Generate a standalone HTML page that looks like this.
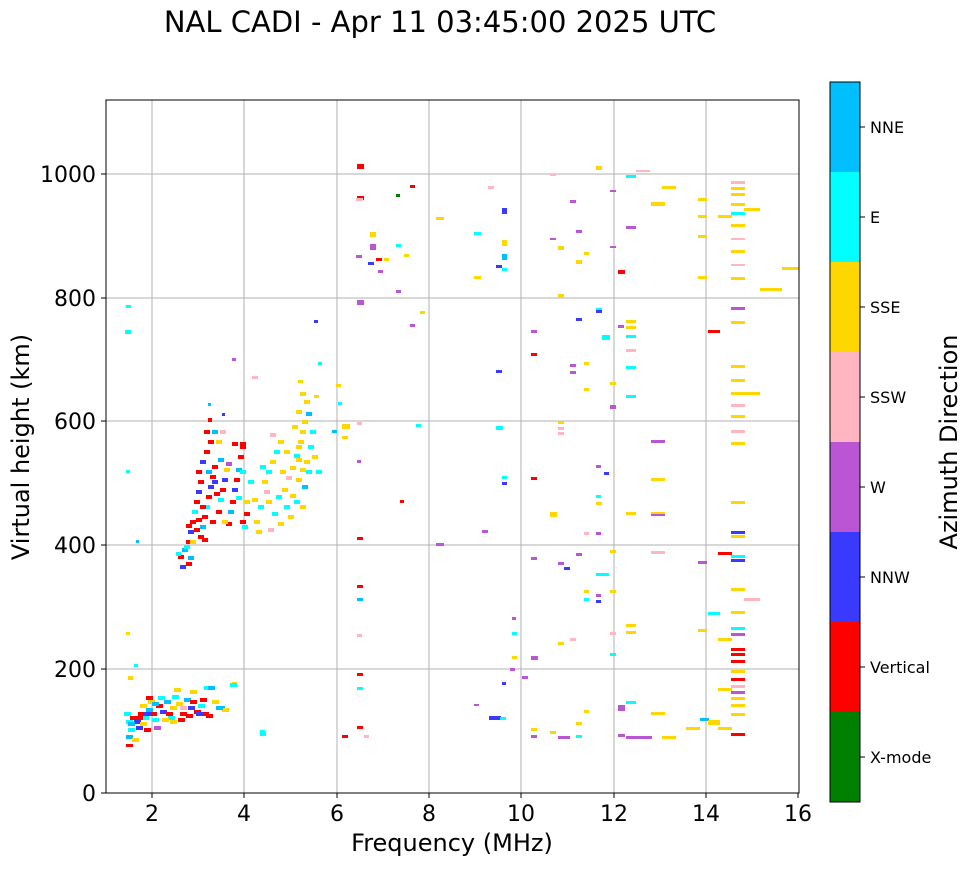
<!DOCTYPE html>
<html><head><meta charset="utf-8"><style>
body{margin:0;background:#fff;}
svg text{font-family:"DejaVu Sans","Liberation Sans",sans-serif;fill:#000;}
.r{fill:#ff0000}.b{fill:#3a3aff}.c{fill:#00ffff}.d{fill:#00bfff}.g{fill:#ffd700}.p{fill:#ffb6c1}.w{fill:#ba55d3}.k{fill:#008000}
</style></head><body>
<svg width="972" height="865" xmlns="http://www.w3.org/2000/svg">
<rect width="972" height="865" fill="#fff"/>
<text x="440" y="32" font-size="29" text-anchor="middle">NAL CADI - Apr 11 03:45:00 2025 UTC</text>
<g stroke="#b0b0b0" stroke-width="1">
<line x1="152" y1="100" x2="152" y2="793"/><line x1="244" y1="100" x2="244" y2="793"/><line x1="337" y1="100" x2="337" y2="793"/><line x1="429" y1="100" x2="429" y2="793"/><line x1="521" y1="100" x2="521" y2="793"/><line x1="614" y1="100" x2="614" y2="793"/><line x1="706" y1="100" x2="706" y2="793"/>
<line x1="106" y1="669" x2="799" y2="669"/><line x1="106" y1="545" x2="799" y2="545"/><line x1="106" y1="421" x2="799" y2="421"/><line x1="106" y1="298" x2="799" y2="298"/><line x1="106" y1="174" x2="799" y2="174"/>
</g>
<g id="pts">
<rect x="126" y="720" width="7" height="4" class="c"/><rect x="128" y="728" width="7" height="4" class="c"/><rect x="126" y="735" width="7" height="4" class="d"/><rect x="130" y="716" width="7" height="4" class="r"/><rect x="134" y="720" width="7" height="4" class="b"/><rect x="138" y="712" width="7" height="4" class="r"/><rect x="142" y="716" width="7" height="4" class="c"/><rect x="146" y="708" width="7" height="4" class="d"/><rect x="150" y="712" width="7" height="4" class="r"/><rect x="148" y="700" width="7" height="4" class="g"/><rect x="152" y="718" width="7" height="4" class="c"/><rect x="156" y="704" width="7" height="4" class="r"/><rect x="160" y="710" width="7" height="4" class="b"/><rect x="164" y="700" width="7" height="4" class="d"/><rect x="166" y="712" width="7" height="4" class="r"/><rect x="170" y="706" width="7" height="4" class="g"/><rect x="172" y="695" width="7" height="4" class="c"/><rect x="176" y="702" width="7" height="4" class="g"/><rect x="180" y="712" width="7" height="4" class="r"/><rect x="184" y="698" width="7" height="4" class="d"/><rect x="188" y="706" width="7" height="4" class="b"/><rect x="190" y="690" width="7" height="4" class="g"/><rect x="194" y="710" width="7" height="4" class="r"/><rect x="198" y="704" width="7" height="4" class="c"/><rect x="202" y="712" width="7" height="4" class="r"/><rect x="204" y="686" width="7" height="4" class="c"/><rect x="208" y="686" width="7" height="4" class="d"/><rect x="212" y="700" width="7" height="4" class="g"/><rect x="218" y="706" width="7" height="4" class="d"/><rect x="222" y="708" width="7" height="4" class="g"/><rect x="232" y="682" width="5" height="4" class="g"/><rect x="126" y="744" width="7" height="3" class="r"/><rect x="132" y="738" width="7" height="4" class="g"/><rect x="140" y="722" width="7" height="4" class="g"/><rect x="154" y="726" width="7" height="4" class="w"/><rect x="168" y="716" width="7" height="4" class="c"/><rect x="178" y="718" width="7" height="4" class="r"/><rect x="186" y="714" width="7" height="4" class="r"/><rect x="196" y="712" width="7" height="4" class="b"/><rect x="146" y="696" width="7" height="4" class="r"/><rect x="158" y="696" width="7" height="4" class="c"/><rect x="174" y="688" width="7" height="4" class="g"/><rect x="128" y="676" width="5" height="4" class="g"/><rect x="140" y="704" width="7" height="4" class="g"/><rect x="162" y="718" width="7" height="4" class="g"/><rect x="144" y="728" width="7" height="4" class="r"/><rect x="136" y="726" width="7" height="4" class="b"/><rect x="124" y="712" width="7" height="4" class="c"/><rect x="180" y="706" width="7" height="4" class="p"/><rect x="200" y="698" width="7" height="4" class="r"/><rect x="152" y="702" width="7" height="4" class="d"/><rect x="170" y="720" width="7" height="4" class="g"/><rect x="190" y="700" width="7" height="4" class="r"/><rect x="206" y="714" width="7" height="4" class="r"/><rect x="216" y="706" width="7" height="4" class="d"/><rect x="128" y="722" width="7" height="4" class="d"/><rect x="136" y="716" width="7" height="4" class="r"/><rect x="144" y="712" width="7" height="4" class="b"/><rect x="230" y="683" width="7" height="4" class="c"/><rect x="260" y="730" width="5" height="4" class="c"/><rect x="126" y="632" width="4" height="3" class="g"/><rect x="134" y="664" width="4" height="3" class="c"/><rect x="126" y="305" width="5" height="3" class="c"/><rect x="125" y="330" width="6" height="4" class="c"/><rect x="126" y="470" width="4" height="3" class="c"/><rect x="136" y="540" width="3" height="3" class="d"/>
<rect x="178" y="555" width="6" height="4" class="r"/><rect x="182" y="548" width="6" height="4" class="d"/><rect x="186" y="540" width="6" height="4" class="r"/><rect x="188" y="530" width="6" height="4" class="b"/><rect x="190" y="520" width="6" height="4" class="r"/><rect x="192" y="510" width="6" height="4" class="c"/><rect x="194" y="500" width="6" height="4" class="r"/><rect x="196" y="490" width="6" height="4" class="b"/><rect x="198" y="535" width="6" height="4" class="r"/><rect x="200" y="525" width="6" height="4" class="d"/><rect x="202" y="515" width="6" height="4" class="r"/><rect x="204" y="505" width="6" height="4" class="c"/><rect x="206" y="495" width="6" height="4" class="r"/><rect x="208" y="485" width="6" height="4" class="b"/><rect x="210" y="475" width="6" height="4" class="r"/><rect x="212" y="465" width="6" height="4" class="r"/><rect x="196" y="470" width="6" height="4" class="r"/><rect x="200" y="460" width="6" height="4" class="b"/><rect x="204" y="450" width="6" height="4" class="r"/><rect x="208" y="440" width="6" height="4" class="r"/><rect x="212" y="430" width="6" height="4" class="d"/><rect x="216" y="510" width="6" height="4" class="r"/><rect x="218" y="498" width="6" height="4" class="c"/><rect x="220" y="488" width="6" height="4" class="r"/><rect x="222" y="478" width="6" height="4" class="b"/><rect x="224" y="468" width="6" height="4" class="g"/><rect x="226" y="522" width="6" height="4" class="r"/><rect x="228" y="510" width="6" height="4" class="d"/><rect x="230" y="500" width="6" height="4" class="r"/><rect x="232" y="488" width="6" height="4" class="b"/><rect x="234" y="478" width="6" height="4" class="r"/><rect x="236" y="468" width="6" height="4" class="d"/><rect x="238" y="455" width="6" height="4" class="r"/><rect x="240" y="445" width="6" height="4" class="r"/><rect x="242" y="525" width="6" height="4" class="c"/><rect x="244" y="512" width="6" height="4" class="r"/><rect x="184" y="545" width="6" height="4" class="c"/><rect x="190" y="540" width="6" height="4" class="g"/><rect x="194" y="528" width="6" height="4" class="r"/><rect x="202" y="538" width="6" height="4" class="r"/><rect x="208" y="418" width="4" height="4" class="r"/><rect x="186" y="562" width="6" height="4" class="r"/><rect x="180" y="565" width="6" height="4" class="b"/><rect x="214" y="492" width="6" height="4" class="r"/><rect x="218" y="458" width="6" height="4" class="d"/><rect x="226" y="462" width="6" height="4" class="w"/><rect x="232" y="442" width="6" height="4" class="r"/><rect x="244" y="500" width="6" height="4" class="g"/><rect x="236" y="496" width="6" height="4" class="c"/><rect x="222" y="520" width="6" height="4" class="g"/><rect x="212" y="480" width="6" height="4" class="b"/><rect x="200" y="505" width="6" height="4" class="r"/><rect x="188" y="556" width="6" height="4" class="d"/><rect x="198" y="480" width="6" height="4" class="r"/><rect x="206" y="470" width="6" height="4" class="d"/><rect x="216" y="440" width="6" height="4" class="g"/><rect x="240" y="470" width="6" height="4" class="c"/><rect x="220" y="430" width="6" height="4" class="p"/><rect x="204" y="430" width="6" height="4" class="r"/><rect x="240" y="442" width="6" height="4" class="r"/><rect x="208" y="403" width="3" height="3" class="d"/><rect x="222" y="413" width="3" height="3" class="b"/><rect x="232" y="358" width="4" height="3" class="w"/><rect x="252" y="376" width="5" height="3" class="p"/><rect x="240" y="520" width="6" height="4" class="r"/><rect x="196" y="518" width="6" height="4" class="r"/><rect x="210" y="520" width="6" height="4" class="r"/><rect x="186" y="524" width="6" height="4" class="r"/><rect x="176" y="552" width="5" height="4" class="c"/>
<rect x="262" y="480" width="6" height="4" class="g"/><rect x="266" y="470" width="6" height="4" class="c"/><rect x="270" y="460" width="6" height="4" class="g"/><rect x="274" y="450" width="6" height="4" class="c"/><rect x="278" y="440" width="6" height="4" class="g"/><rect x="282" y="488" width="6" height="4" class="g"/><rect x="286" y="476" width="6" height="4" class="p"/><rect x="290" y="466" width="6" height="4" class="g"/><rect x="294" y="454" width="6" height="4" class="c"/><rect x="298" y="440" width="6" height="4" class="g"/><rect x="300" y="430" width="6" height="4" class="g"/><rect x="302" y="420" width="6" height="4" class="g"/><rect x="296" y="410" width="6" height="4" class="g"/><rect x="304" y="400" width="6" height="4" class="g"/><rect x="300" y="392" width="6" height="4" class="g"/><rect x="306" y="412" width="6" height="4" class="d"/><rect x="310" y="430" width="6" height="4" class="c"/><rect x="312" y="455" width="6" height="4" class="g"/><rect x="316" y="470" width="6" height="4" class="c"/><rect x="266" y="500" width="6" height="4" class="g"/><rect x="272" y="512" width="6" height="4" class="c"/><rect x="278" y="522" width="6" height="4" class="g"/><rect x="284" y="505" width="6" height="4" class="c"/><rect x="290" y="494" width="6" height="4" class="g"/><rect x="296" y="478" width="6" height="4" class="g"/><rect x="254" y="520" width="6" height="4" class="g"/><rect x="258" y="505" width="6" height="4" class="c"/><rect x="264" y="490" width="6" height="4" class="p"/><rect x="248" y="480" width="6" height="4" class="c"/><rect x="252" y="498" width="6" height="4" class="g"/><rect x="276" y="495" width="6" height="4" class="c"/><rect x="288" y="515" width="6" height="4" class="g"/><rect x="300" y="505" width="6" height="4" class="g"/><rect x="304" y="460" width="6" height="4" class="g"/><rect x="308" y="445" width="6" height="4" class="c"/><rect x="270" y="433" width="6" height="4" class="p"/><rect x="292" y="425" width="6" height="4" class="g"/><rect x="298" y="380" width="5" height="3" class="g"/><rect x="314" y="395" width="5" height="3" class="g"/><rect x="318" y="362" width="4" height="3" class="c"/><rect x="256" y="530" width="6" height="4" class="g"/><rect x="280" y="470" width="6" height="4" class="g"/><rect x="260" y="465" width="6" height="4" class="c"/><rect x="284" y="450" width="6" height="4" class="g"/><rect x="302" y="485" width="6" height="4" class="d"/><rect x="306" y="470" width="6" height="4" class="c"/><rect x="294" y="500" width="6" height="4" class="c"/><rect x="268" y="528" width="6" height="4" class="p"/><rect x="296" y="445" width="6" height="4" class="g"/><rect x="300" y="468" width="6" height="4" class="g"/><rect x="296" y="458" width="6" height="4" class="g"/><rect x="336" y="384" width="5" height="3" class="g"/><rect x="338" y="402" width="4" height="3" class="c"/><rect x="314" y="320" width="4" height="3" class="b"/><rect x="252" y="376" width="6" height="3" class="p"/><rect x="260" y="732" width="6" height="4" class="c"/>
<rect x="357" y="164" width="7" height="5" class="r"/><rect x="357" y="196" width="7" height="4" class="r"/><rect x="356" y="198" width="7" height="3" class="p"/><rect x="357" y="300" width="7" height="5" class="w"/><rect x="356" y="255" width="6" height="3" class="w"/><rect x="357" y="422" width="5" height="3" class="p"/><rect x="342" y="424" width="8" height="5" class="g"/><rect x="342" y="436" width="6" height="3" class="g"/><rect x="332" y="430" width="5" height="3" class="d"/><rect x="357" y="460" width="4" height="3" class="w"/><rect x="357" y="537" width="6" height="3" class="r"/><rect x="357" y="585" width="6" height="3" class="r"/><rect x="357" y="598" width="6" height="3" class="d"/><rect x="357" y="634" width="5" height="3" class="p"/><rect x="357" y="673" width="6" height="3" class="r"/><rect x="357" y="687" width="6" height="3" class="c"/><rect x="357" y="726" width="6" height="3" class="r"/><rect x="342" y="735" width="6" height="3" class="r"/><rect x="364" y="735" width="5" height="3" class="p"/>
<rect x="370" y="232" width="6" height="5" class="g"/><rect x="370" y="244" width="6" height="6" class="w"/><rect x="376" y="258" width="6" height="3" class="r"/><rect x="368" y="262" width="6" height="3" class="b"/><rect x="378" y="270" width="5" height="3" class="w"/><rect x="384" y="258" width="5" height="3" class="g"/><rect x="396" y="244" width="5" height="3" class="c"/><rect x="396" y="290" width="5" height="3" class="w"/><rect x="410" y="185" width="5" height="3" class="r"/><rect x="396" y="194" width="4" height="3" class="k"/><rect x="410" y="324" width="5" height="3" class="w"/><rect x="400" y="500" width="4" height="3" class="r"/><rect x="404" y="254" width="5" height="3" class="g"/><rect x="420" y="311" width="5" height="3" class="g"/><rect x="416" y="424" width="5" height="3" class="c"/><rect x="436" y="217" width="8" height="3" class="g"/><rect x="436" y="543" width="8" height="3" class="w"/>
<rect x="474" y="232" width="7" height="3" class="c"/><rect x="474" y="276" width="7" height="3" class="g"/><rect x="488" y="186" width="6" height="3" class="p"/><rect x="496" y="265" width="6" height="3" class="b"/><rect x="502" y="208" width="5" height="6" class="b"/><rect x="502" y="240" width="5" height="6" class="g"/><rect x="502" y="254" width="5" height="6" class="d"/><rect x="502" y="268" width="5" height="3" class="c"/><rect x="496" y="370" width="6" height="3" class="b"/><rect x="496" y="426" width="7" height="4" class="c"/><rect x="502" y="476" width="5" height="3" class="c"/><rect x="502" y="482" width="5" height="3" class="b"/><rect x="482" y="530" width="6" height="3" class="w"/><rect x="512" y="617" width="4" height="3" class="w"/><rect x="512" y="632" width="5" height="3" class="c"/><rect x="512" y="656" width="5" height="3" class="g"/><rect x="510" y="668" width="5" height="3" class="w"/><rect x="502" y="682" width="4" height="3" class="b"/><rect x="489" y="716" width="12" height="4" class="b"/><rect x="500" y="717" width="6" height="3" class="c"/><rect x="474" y="704" width="5" height="2" class="w"/><rect x="522" y="676" width="6" height="3" class="w"/><rect x="531" y="656" width="7" height="4" class="w"/><rect x="531" y="728" width="6" height="3" class="g"/><rect x="531" y="735" width="6" height="3" class="w"/><rect x="531" y="330" width="6" height="3" class="w"/><rect x="531" y="353" width="6" height="3" class="r"/><rect x="531" y="477" width="6" height="3" class="r"/><rect x="531" y="557" width="6" height="3" class="w"/><rect x="550" y="238" width="6" height="2" class="w"/><rect x="550" y="174" width="6" height="2" class="p"/><rect x="550" y="512" width="7" height="5" class="g"/><rect x="550" y="731" width="6" height="3" class="g"/><rect x="558" y="246" width="6" height="4" class="g"/><rect x="558" y="294" width="6" height="4" class="g"/><rect x="558" y="421" width="6" height="3" class="g"/><rect x="558" y="427" width="6" height="3" class="p"/><rect x="558" y="432" width="6" height="3" class="p"/><rect x="558" y="562" width="6" height="3" class="w"/><rect x="558" y="642" width="6" height="3" class="g"/><rect x="558" y="736" width="12" height="3" class="w"/><rect x="564" y="567" width="6" height="3" class="b"/><rect x="570" y="200" width="6" height="3" class="w"/><rect x="570" y="364" width="6" height="3" class="w"/><rect x="570" y="371" width="6" height="3" class="w"/><rect x="570" y="638" width="6" height="3" class="p"/><rect x="576" y="230" width="6" height="3" class="w"/><rect x="576" y="260" width="6" height="4" class="g"/><rect x="576" y="318" width="6" height="3" class="b"/><rect x="576" y="553" width="6" height="3" class="w"/><rect x="576" y="722" width="6" height="3" class="g"/><rect x="576" y="735" width="6" height="3" class="c"/><rect x="584" y="252" width="5" height="3" class="g"/><rect x="584" y="362" width="5" height="3" class="g"/><rect x="584" y="388" width="5" height="3" class="g"/><rect x="584" y="532" width="5" height="3" class="p"/><rect x="584" y="590" width="5" height="3" class="g"/><rect x="584" y="598" width="5" height="3" class="c"/><rect x="584" y="710" width="5" height="3" class="g"/><rect x="596" y="166" width="6" height="4" class="g"/><rect x="596" y="308" width="6" height="3" class="c"/><rect x="596" y="310" width="6" height="3" class="b"/><rect x="596" y="465" width="5" height="3" class="w"/><rect x="596" y="495" width="5" height="3" class="c"/><rect x="596" y="502" width="6" height="3" class="g"/><rect x="596" y="573" width="13" height="3" class="c"/><rect x="596" y="594" width="5" height="3" class="w"/><rect x="596" y="600" width="5" height="3" class="b"/><rect x="602" y="335" width="8" height="5" class="c"/><rect x="604" y="472" width="5" height="3" class="b"/><rect x="596" y="532" width="5" height="3" class="w"/>
<rect x="610" y="190" width="6" height="2" class="w"/><rect x="610" y="246" width="6" height="2" class="w"/><rect x="610" y="382" width="6" height="3" class="g"/><rect x="610" y="405" width="6" height="4" class="w"/><rect x="610" y="550" width="6" height="3" class="g"/><rect x="610" y="590" width="6" height="3" class="g"/><rect x="610" y="632" width="6" height="3" class="p"/><rect x="610" y="653" width="6" height="3" class="c"/><rect x="618" y="270" width="7" height="4" class="r"/><rect x="618" y="325" width="6" height="3" class="w"/><rect x="618" y="705" width="7" height="6" class="w"/><rect x="618" y="734" width="7" height="3" class="w"/><rect x="626" y="175" width="10" height="3" class="c"/><rect x="626" y="226" width="10" height="3" class="w"/><rect x="626" y="320" width="10" height="3" class="g"/><rect x="626" y="326" width="10" height="3" class="g"/><rect x="626" y="335" width="10" height="3" class="c"/><rect x="626" y="349" width="10" height="3" class="p"/><rect x="626" y="366" width="10" height="3" class="c"/><rect x="626" y="395" width="10" height="3" class="c"/><rect x="626" y="512" width="10" height="3" class="g"/><rect x="626" y="624" width="10" height="3" class="g"/><rect x="626" y="631" width="10" height="3" class="g"/><rect x="626" y="701" width="10" height="3" class="c"/><rect x="626" y="736" width="26" height="3" class="w"/><rect x="636" y="170" width="14" height="2" class="p"/><rect x="651" y="202" width="14" height="4" class="g"/><rect x="651" y="440" width="14" height="3" class="w"/><rect x="651" y="478" width="14" height="3" class="g"/><rect x="651" y="512" width="14" height="3" class="g"/><rect x="651" y="514" width="14" height="2" class="w"/><rect x="651" y="551" width="14" height="3" class="p"/><rect x="651" y="712" width="14" height="3" class="g"/><rect x="662" y="186" width="14" height="3" class="g"/><rect x="662" y="736" width="14" height="3" class="g"/><rect x="686" y="727" width="14" height="3" class="g"/><rect x="698" y="198" width="9" height="3" class="g"/><rect x="698" y="215" width="9" height="3" class="g"/><rect x="698" y="235" width="9" height="3" class="g"/><rect x="698" y="276" width="9" height="3" class="g"/><rect x="698" y="561" width="9" height="3" class="w"/><rect x="698" y="629" width="9" height="3" class="g"/><rect x="700" y="718" width="9" height="3" class="d"/><rect x="708" y="612" width="12" height="3" class="c"/><rect x="708" y="330" width="12" height="3" class="r"/><rect x="708" y="720" width="12" height="5" class="g"/><rect x="718" y="215" width="14" height="3" class="g"/><rect x="718" y="552" width="14" height="3" class="r"/><rect x="718" y="638" width="14" height="3" class="g"/><rect x="718" y="688" width="14" height="3" class="g"/><rect x="718" y="727" width="14" height="3" class="g"/>
<rect x="731" y="181" width="14" height="3" class="p"/><rect x="731" y="187" width="14" height="3" class="g"/><rect x="731" y="193" width="14" height="3" class="g"/><rect x="731" y="203" width="14" height="3" class="g"/><rect x="731" y="212" width="14" height="3" class="c"/><rect x="731" y="224" width="14" height="3" class="g"/><rect x="731" y="238" width="14" height="2" class="p"/><rect x="731" y="250" width="14" height="3" class="g"/><rect x="731" y="264" width="14" height="2" class="p"/><rect x="731" y="277" width="14" height="3" class="g"/><rect x="731" y="307" width="14" height="3" class="w"/><rect x="731" y="321" width="14" height="3" class="g"/><rect x="731" y="365" width="14" height="3" class="g"/><rect x="731" y="379" width="14" height="3" class="g"/><rect x="731" y="392" width="14" height="3" class="g"/><rect x="731" y="404" width="14" height="3" class="p"/><rect x="731" y="415" width="14" height="3" class="g"/><rect x="731" y="430" width="14" height="3" class="p"/><rect x="731" y="442" width="14" height="3" class="g"/><rect x="731" y="501" width="14" height="3" class="g"/><rect x="731" y="531" width="14" height="3" class="b"/><rect x="731" y="535" width="14" height="3" class="g"/><rect x="731" y="555" width="14" height="3" class="c"/><rect x="731" y="559" width="14" height="3" class="b"/><rect x="731" y="588" width="14" height="3" class="g"/><rect x="731" y="611" width="14" height="3" class="g"/><rect x="731" y="627" width="14" height="3" class="c"/><rect x="731" y="633" width="14" height="3" class="w"/><rect x="731" y="648" width="14" height="3" class="r"/><rect x="731" y="653" width="14" height="3" class="r"/><rect x="731" y="660" width="14" height="3" class="r"/><rect x="731" y="670" width="14" height="3" class="g"/><rect x="731" y="678" width="14" height="3" class="r"/><rect x="731" y="685" width="14" height="3" class="p"/><rect x="731" y="691" width="14" height="3" class="w"/><rect x="731" y="697" width="14" height="3" class="g"/><rect x="731" y="704" width="14" height="3" class="g"/><rect x="731" y="713" width="14" height="3" class="g"/><rect x="731" y="733" width="14" height="3" class="r"/><rect x="744" y="208" width="16" height="3" class="g"/><rect x="744" y="392" width="16" height="3" class="g"/><rect x="744" y="598" width="16" height="3" class="p"/><rect x="760" y="288" width="22" height="3" class="g"/><rect x="782" y="267" width="17" height="3" class="g"/>
</g>
<rect x="106" y="100" width="693" height="693" fill="none" stroke="#000" stroke-width="1"/>
<g stroke="#000" stroke-width="1">
<line x1="152" y1="793" x2="152" y2="798"/><line x1="244" y1="793" x2="244" y2="798"/><line x1="337" y1="793" x2="337" y2="798"/><line x1="429" y1="793" x2="429" y2="798"/><line x1="521" y1="793" x2="521" y2="798"/><line x1="614" y1="793" x2="614" y2="798"/><line x1="706" y1="793" x2="706" y2="798"/><line x1="798" y1="793" x2="798" y2="798"/>
<line x1="101" y1="793" x2="106" y2="793"/><line x1="101" y1="669" x2="106" y2="669"/><line x1="101" y1="545" x2="106" y2="545"/><line x1="101" y1="421" x2="106" y2="421"/><line x1="101" y1="298" x2="106" y2="298"/><line x1="101" y1="174" x2="106" y2="174"/>
</g>
<g font-size="22" text-anchor="middle">
<text x="152" y="821">2</text><text x="244" y="821">4</text><text x="337" y="821">6</text><text x="429" y="821">8</text><text x="521" y="821">10</text><text x="614" y="821">12</text><text x="706" y="821">14</text><text x="798" y="821">16</text>
</g>
<g font-size="22" text-anchor="end">
<text x="96" y="801">0</text><text x="96" y="677">200</text><text x="96" y="553">400</text><text x="96" y="429">600</text><text x="96" y="306">800</text><text x="96" y="182">1000</text>
</g>
<text x="452" y="851" font-size="24" text-anchor="middle">Frequency (MHz)</text>
<text transform="translate(29,447) rotate(-90)" font-size="24" text-anchor="middle">Virtual height (km)</text>
<rect x="830" y="82" width="30" height="90" fill="#00bfff"/><rect x="830" y="172" width="30" height="90" fill="#00ffff"/><rect x="830" y="262" width="30" height="90" fill="#ffd700"/><rect x="830" y="352" width="30" height="90" fill="#ffb6c1"/><rect x="830" y="442" width="30" height="90" fill="#ba55d3"/><rect x="830" y="532" width="30" height="90" fill="#3a3aff"/><rect x="830" y="622" width="30" height="90" fill="#ff0000"/><rect x="830" y="712" width="30" height="90" fill="#008000"/>
<rect x="830" y="82" width="30" height="720" fill="none" stroke="#000" stroke-width="1"/>
<g stroke="#000"><line x1="860" y1="127" x2="865" y2="127"/><line x1="860" y1="217" x2="865" y2="217"/><line x1="860" y1="307" x2="865" y2="307"/><line x1="860" y1="397" x2="865" y2="397"/><line x1="860" y1="487" x2="865" y2="487"/><line x1="860" y1="577" x2="865" y2="577"/><line x1="860" y1="667" x2="865" y2="667"/><line x1="860" y1="757" x2="865" y2="757"/></g>
<g font-size="16">
<text x="870" y="133">NNE</text><text x="870" y="223">E</text><text x="870" y="313">SSE</text><text x="870" y="403">SSW</text><text x="870" y="493">W</text><text x="870" y="583">NNW</text><text x="870" y="673">Vertical</text><text x="870" y="763">X-mode</text>
</g>
<text transform="translate(957,442) rotate(-90)" font-size="24" text-anchor="middle">Azimuth Direction</text>
</svg>
</body></html>
